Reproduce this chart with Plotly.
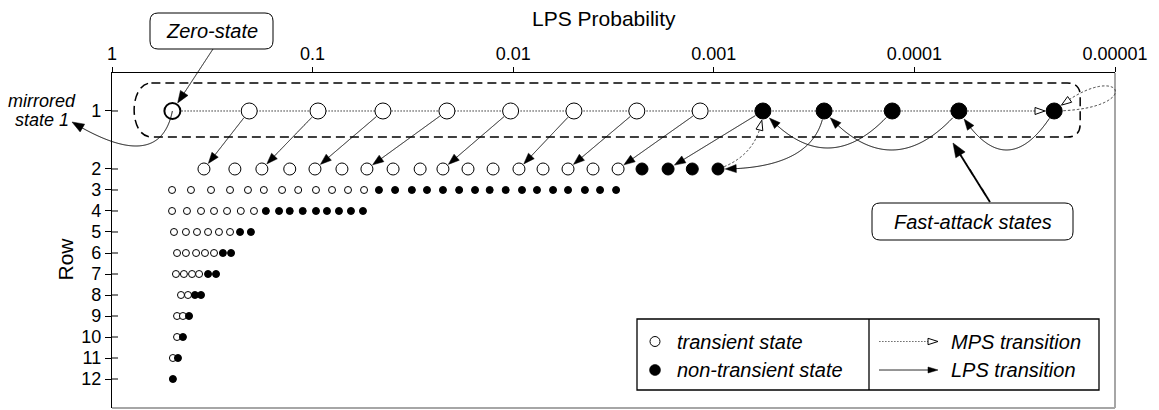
import numpy as np
import plotly.graph_objects as go

# ---------------- data ----------------
# LPS probability of every state, per row (open circle = transient,
# filled circle = non-transient)
row1_transient = [0.5, 0.207, 0.094, 0.0446, 0.0214, 0.0103, 0.00498, 0.00242, 0.00117]
row1_non_transient = [0.000569, 0.000282, 0.000129, 0.0000600, 0.0000201]
row2_transient = [0.348, 0.244, 0.179, 0.130, 0.0973, 0.0714, 0.0536, 0.0397, 0.0291,
                  0.0224, 0.0168, 0.0126, 0.00936, 0.0071, 0.00533, 0.0040, 0.0030]
row2_non_transient = [0.00228, 0.00169, 0.00128, 0.000953]
row3_transient = [0.502, 0.404, 0.321, 0.258, 0.210, 0.175, 0.142, 0.118, 0.0962,
                  0.0800, 0.0666, 0.0554]
row3_non_transient = [0.0467, 0.0388, 0.0320, 0.0269, 0.0224, 0.0186, 0.0155, 0.0131,
                      0.0109, 0.00904, 0.00761, 0.00633, 0.00533, 0.00439, 0.00369, 0.00307]
row4_transient = [0.502, 0.423, 0.360, 0.310, 0.267, 0.228, 0.196]
row4_non_transient = [0.171, 0.147, 0.130, 0.112, 0.0962, 0.0848, 0.0739, 0.0644, 0.0561]
row5_transient = [0.491, 0.428, 0.377, 0.332, 0.293, 0.258]
row5_non_transient = [0.230, 0.203]
row6_transient = [0.474, 0.428, 0.381, 0.344, 0.310]
row6_non_transient = [0.280, 0.255]
row7_transient = [0.480, 0.438, 0.399, 0.368]
row7_non_transient = [0.332, 0.303]
row8_transient = [0.453, 0.418]
row8_non_transient = [0.386, 0.360]
row9_transient = [0.474, 0.443]
row9_non_transient = [0.413]
row10_transient = [0.474]
row10_non_transient = [0.443]
row11_transient = [0.497]
row11_non_transient = [0.469]
row12_transient = []
row12_non_transient = [0.497]

rows = list(range(1, 13))
row_tick_labels = [str(r) for r in rows]
lps_tick_vals = [1, 0.1, 0.01, 0.001, 0.0001, 0.00001]
lps_tick_text = ["1", "0.1", "0.01", "0.001", "0.0001", "0.00001"]

# transitions between states: (row, index within row) -> (row, index within row)
lps_straight = [((1, 1), (2, 0)), ((1, 2), (2, 2)), ((1, 3), (2, 4)), ((1, 4), (2, 6)),
                ((1, 5), (2, 9)), ((1, 6), (2, 12)), ((1, 7), (2, 14)), ((1, 8), (2, 16)),
                ((1, 9), (2, 18))]
lps_curved = [((1, 10), (2, 20)), ((1, 11), (1, 9)), ((1, 12), (1, 10)), ((1, 13), (1, 12))]
mps_curved = [((2, 20), (1, 9))]
mps_self_loop = (1, 13)

transient_by_row = [row1_transient, row2_transient, row3_transient, row4_transient,
                    row5_transient, row6_transient, row7_transient, row8_transient,
                    row9_transient, row10_transient, row11_transient, row12_transient]
non_transient_by_row = [row1_non_transient, row2_non_transient, row3_non_transient,
                        row4_non_transient, row5_non_transient, row6_non_transient,
                        row7_non_transient, row8_non_transient, row9_non_transient,
                        row10_non_transient, row11_non_transient, row12_non_transient]

# ---------------- layout constants ----------------
W, H = 1159, 410
ML, MR, MT, MB = 112, 44, 73, 2
L, R, T, B = ML, W - MR, MT, H - MB
X_LOG_RANGE = (0, -5)
Y_RANGE = (13.381, -2.571)       # reversed: row numbers grow downwards
ROW1_Y = -0.762                  # row 1 is drawn apart from the others
FONT = "Liberation Sans, Arial, sans-serif"
MARKER_SIZE = {1: 16, 2: 12}


def row_y(r):
    return ROW1_Y if r == 1 else r


def msize(r):
    return MARKER_SIZE.get(r, 7)


def all_states(r):
    return transient_by_row[r - 1] + non_transient_by_row[r - 1]


def to_px(p, y):
    X = L + (X_LOG_RANGE[0] - np.log10(p)) / (X_LOG_RANGE[0] - X_LOG_RANGE[1]) * (R - L)
    Y = T + (y - Y_RANGE[1]) / (Y_RANGE[0] - Y_RANGE[1]) * (B - T)
    return np.array([X, Y], float)


def state_px(rs):
    r, i = rs
    return to_px(all_states(r)[i], row_y(r))


def state_rad(rs):
    r, i = rs
    lw = 2 if (r == 1 and i == 0) else 1
    return msize(r) / 2 + lw / 2


def P(x, y):
    return f"{(x - L) / (R - L):.5f},{(B - y) / (B - T):.5f}"


def poly_path(pts, close=False):
    s = "M " + " L ".join(P(x, y) for x, y in pts)
    return s + (" Z" if close else "")


def bezier(ctrl, n=240):
    c = np.array(ctrl, float)
    t = np.linspace(0, 1, n)[:, None]
    if len(c) == 2:
        return c[0] * (1 - t) + c[1] * t
    if len(c) == 3:
        return (1 - t) ** 2 * c[0] + 2 * (1 - t) * t * c[1] + t ** 2 * c[2]
    return ((1 - t) ** 3 * c[0] + 3 * (1 - t) ** 2 * t * c[1]
            + 3 * (1 - t) * t ** 2 * c[2] + t ** 3 * c[3])


shapes = []
annots = []


def add_arrow(ctrl, src=None, r_src=0.0, dst=None, r_dst=0.0, head="filled",
              head_len=11, head_w=4, width=1.0, dash=None, color="black", draw_line=True):
    c = bezier(ctrl)
    if src is not None:
        d = np.hypot(c[:, 0] - src[0], c[:, 1] - src[1])
        c = c[int(np.argmax(d >= r_src)):]
    if dst is not None:
        d = np.hypot(c[:, 0] - dst[0], c[:, 1] - dst[1])
        ok = np.where(d >= r_dst)[0]
        c = c[:ok[-1] + 1]
    tip = c[-1]
    dd = np.hypot(c[:, 0] - tip[0], c[:, 1] - tip[1])
    k = np.where(dd >= head_len)[0][-1]
    u = (tip - c[k]) / np.hypot(*(tip - c[k]))
    base = tip - u * head_len
    nrm = np.array([-u[1], u[0]])
    if draw_line:
        line_pts = np.vstack([c[:k + 1], base + u * 2])
        ln = dict(color=color, width=width)
        if dash:
            ln["dash"] = dash
        shapes.append(dict(type="path", path=poly_path(line_pts), xref="paper", yref="paper",
                           line=ln, fillcolor="rgba(0,0,0,0)", layer="above"))
    tri = [tip, base + nrm * head_w, base - nrm * head_w]
    shapes.append(dict(type="path", path=poly_path(tri, close=True), xref="paper",
                       yref="paper", line=dict(color="black", width=1 if head == "open" else 0.5),
                       fillcolor="white" if head == "open" else "black", layer="above"))


def rrect_path(x0, y0, x1, y1, r):
    return ("M " + P(x0 + r, y0) + " L " + P(x1 - r, y0) + " Q " + P(x1, y0) + " " + P(x1, y0 + r)
            + " L " + P(x1, y1 - r) + " Q " + P(x1, y1) + " " + P(x1 - r, y1)
            + " L " + P(x0 + r, y1) + " Q " + P(x0, y1) + " " + P(x0, y1 - r)
            + " L " + P(x0, y0 + r) + " Q " + P(x0, y0) + " " + P(x0 + r, y0) + " Z")


def circle_path(cx, cy, r):
    k = 0.5523 * r
    return ("M " + P(cx + r, cy)
            + " C " + P(cx + r, cy + k) + " " + P(cx + k, cy + r) + " " + P(cx, cy + r)
            + " C " + P(cx - k, cy + r) + " " + P(cx - r, cy + k) + " " + P(cx - r, cy)
            + " C " + P(cx - r, cy - k) + " " + P(cx - k, cy - r) + " " + P(cx, cy - r)
            + " C " + P(cx + k, cy - r) + " " + P(cx + r, cy - k) + " " + P(cx + r, cy) + " Z")


def text(x, y, s, size=20, anchor="center", angle=0, italic=True):
    annots.append(dict(x=(x - L) / (R - L), y=(B - y) / (B - T), xref="paper", yref="paper",
                       text=f"<i>{s}</i>" if italic else s, showarrow=False, xanchor=anchor,
                       yanchor="middle", textangle=angle,
                       font=dict(size=size, family=FONT, color="black")))


# ---------------- traces ----------------
fig = go.Figure()
r1_all = all_states(1)
fig.add_trace(go.Scatter(x=r1_all, y=[row_y(1)] * len(r1_all), mode="lines",
                         line=dict(color="#333333", width=1, dash="1.5px,1.5px"),
                         hoverinfo="skip", showlegend=False))

for lists, fill in [(transient_by_row, "white"), (non_transient_by_row, "black")]:
    xs, ys, ss, lw = [], [], [], []
    for r, vals in zip(rows, lists):
        for i, v in enumerate(vals):
            xs.append(v)
            ys.append(row_y(r))
            ss.append(msize(r))
            lw.append(2 if (r == 1 and i == 0 and fill == "white") else 1)
    fig.add_trace(go.Scatter(x=xs, y=ys, mode="markers", showlegend=False,
                             marker=dict(symbol="circle", size=ss, color=fill, opacity=1,
                                         line=dict(color="black", width=lw))))

# ---------------- decorations ----------------
# gray right / bottom frame
shapes.append(dict(type="line", xref="paper", yref="paper", x0=1, x1=1, y0=0, y1=1,
                   line=dict(color="#a6a6a6", width=2), layer="above"))
shapes.append(dict(type="line", xref="paper", yref="paper", x0=0, x1=1, y0=0, y1=0,
                   line=dict(color="#a6a6a6", width=2), layer="above"))
# inner halves of the y ticks (ticks cross the axis)
for r in rows:
    shapes.append(dict(type="line", xref="paper", yref="y", x0=0, x1=6 / (R - L),
                       y0=row_y(r), y1=row_y(r), line=dict(color="black", width=1)))

# dashed enclosure of row 1
p_first = state_px((1, 0))
p_last = state_px((1, len(r1_all) - 1))
cy = p_first[1]
xl, xr, top, bot, rc = p_first[0] - 21, p_last[0] + 26, cy - 28, cy + 26, 13
enc = ("M " + P(xl, top) + " L " + P(xr - rc, top) + " Q " + P(xr, top) + " " + P(xr, top + rc)
       + " L " + P(xr, bot - rc) + " Q " + P(xr, bot) + " " + P(xr - rc, bot)
       + " L " + P(xl, bot) + " C " + P(xl - 23, bot) + " " + P(xl - 23, top) + " " + P(xl, top))
shapes.append(dict(type="path", path=enc, xref="paper", yref="paper",
                   line=dict(color="black", width=1.5, dash="9px,5px"),
                   fillcolor="rgba(0,0,0,0)", layer="above"))

MPS_DASH = "2.5px,2px"
# MPS arrowhead at the end of row 1 (the dotted line itself is the first trace)
n1 = len(r1_all)
add_arrow([state_px((1, n1 - 2)), state_px((1, n1 - 1))],
          dst=state_px((1, n1 - 1)), r_dst=state_rad((1, n1 - 1)) + 0.5,
          head="open", head_len=10, head_w=3.5, draw_line=False)

# straight LPS transitions
for s, d in lps_straight:
    add_arrow([state_px(s), state_px(d)], src=state_px(s), r_src=state_rad(s),
              dst=state_px(d), r_dst=state_rad(d) + 0.5, head_len=11, head_w=4)

# curved LPS transitions (control-point offset from chord midpoint, px)
lps_bend = [(45, 30), (0, 74), (0, 78), (0, 78)]
for (s, d), (bx, by) in zip(lps_curved, lps_bend):
    a, b = state_px(s), state_px(d)
    ctrl = (a + b) / 2 + np.array([bx, by])
    add_arrow([a, ctrl, b], src=a, r_src=state_rad(s), dst=b, r_dst=state_rad(d) + 0.5,
              head_len=11, head_w=4)

# curved MPS transition row 2 -> row 1
for s, d in mps_curved:
    a, b = state_px(s), state_px(d)
    ctrl = (a + b) / 2 + np.array([19.5, 15])
    add_arrow([a, ctrl, b], src=a, r_src=state_rad(s), dst=b, r_dst=state_rad(d) + 0.5,
              head="open", head_len=10, head_w=3.5, width=1, dash=MPS_DASH, color="#333333")

# MPS self loop on the last state
c = state_px(mps_self_loop)
add_arrow([c, c + np.array([96, -1]), c + np.array([66, -56]), c], src=c,
          r_src=state_rad(mps_self_loop), dst=c, r_dst=state_rad(mps_self_loop) + 0.5,
          head="open", head_len=10, head_w=3.5, width=1, dash=MPS_DASH, color="#333333")

# mirrored state 1 arrow
z = state_px((1, 0))
add_arrow([z, z + np.array([-13, 64]), np.array([72, 122])], head_len=12, head_w=4.5, width=1)
text(42, 100.5, "mirrored", size=18)
text(42, 120, "state 1", size=18)

# Zero-state callout
shapes.append(dict(type="path", path=rrect_path(150, 13, 273, 49, 8), xref="paper", yref="paper",
                   line=dict(color="black", width=1), fillcolor="white", layer="above"))
text(211.5, 31, "Zero-state")
add_arrow([np.array([213, 49]), z], dst=z, r_dst=state_rad((1, 0)) + 0.5,
          head_len=12, head_w=4.5, width=1)

# Fast-attack callout
shapes.append(dict(type="path", path=rrect_path(872, 203, 1073, 240, 8), xref="paper",
                   yref="paper", line=dict(color="black", width=1), fillcolor="white",
                   layer="above"))
text(972.5, 221.5, "Fast-attack states")
add_arrow([np.array([990, 202]), np.array([953, 143])], head_len=14, head_w=5.5, width=2)

# key box
shapes.append(dict(type="rect", xref="paper", yref="paper", x0=(637 - L) / (R - L),
                   x1=(1099 - L) / (R - L), y0=(B - 390) / (B - T), y1=(B - 319) / (B - T),
                   line=dict(color="black", width=1.3), fillcolor="white", layer="above"))
shapes.append(dict(type="line", xref="paper", yref="paper", x0=(869 - L) / (R - L),
                   x1=(869 - L) / (R - L), y0=(B - 390) / (B - T), y1=(B - 319) / (B - T),
                   line=dict(color="black", width=1.3), layer="above"))
shapes.append(dict(type="path", path=circle_path(655, 341.5, 5), xref="paper", yref="paper",
                   line=dict(color="black", width=1), fillcolor="white", layer="above"))
shapes.append(dict(type="path", path=circle_path(655, 370, 5.5), xref="paper", yref="paper",
                   line=dict(color="black", width=0.5), fillcolor="black", layer="above"))
text(675, 341.5, "transient state", anchor="left")
text(675, 370, "non-transient state", anchor="left")
add_arrow([np.array([879, 341.5]), np.array([938, 341.5])], head="open", head_len=10,
          head_w=3.2, width=1, dash="1.5px,1.5px", color="#333333")
add_arrow([np.array([879, 370]), np.array([938, 370])], head_len=10, head_w=3, width=1)
text(949, 341.5, "MPS transition", anchor="left")
text(949, 370, "LPS transition", anchor="left")

# axis titles
text(604, 19, "LPS Probability", size=21, italic=False)
text(64.5, 259, "Row", size=21, angle=-90, italic=False)

fig.update_layout(
    width=W, height=H, margin=dict(l=ML, r=MR, t=MT, b=MB, pad=0),
    paper_bgcolor="white", plot_bgcolor="white", showlegend=False,
    font=dict(family=FONT, color="black"),
    xaxis=dict(type="log", range=list(X_LOG_RANGE), side="top", tickmode="array",
               tickvals=lps_tick_vals, ticktext=lps_tick_text, ticks="outside", ticklen=5,
               tickwidth=1, tickcolor="black", showline=True, linecolor="black",
               linewidth=1.3, showgrid=False, zeroline=False, automargin=False,
               tickfont=dict(size=18, family=FONT, color="black")),
    yaxis=dict(range=list(Y_RANGE), tickmode="array", tickvals=[row_y(r) for r in rows],
               ticktext=row_tick_labels, ticks="outside", ticklen=6, tickwidth=1,
               tickcolor="black", showline=True, linecolor="black", linewidth=1.3,
               showgrid=False, zeroline=False, automargin=False,
               tickfont=dict(size=18, family=FONT, color="black")),
    shapes=shapes, annotations=annots,
)
fig.write_html("out.html", config={"displayModeBar": False},
               post_script="document.body.style.margin='0px';")
